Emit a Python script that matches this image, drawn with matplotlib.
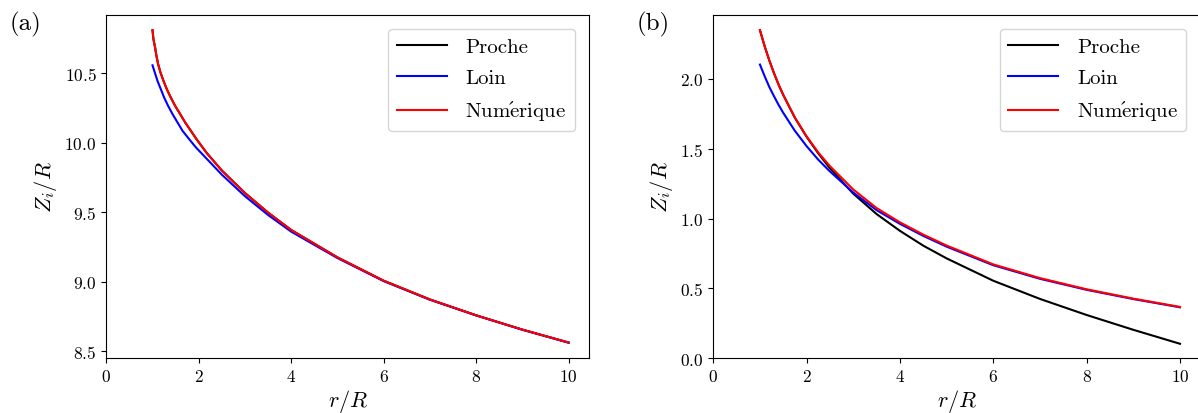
import matplotlib
matplotlib.use("Agg")
import matplotlib.pyplot as plt

plt.rcParams['font.family'] = 'serif'
plt.rcParams['font.serif'] = ['cmr10']
plt.rcParams['mathtext.fontset'] = 'cm'
plt.rcParams['axes.formatter.use_mathtext'] = True
plt.rcParams['axes.unicode_minus'] = False

# (a) values
ra_num = [1.0, 1.021, 1.057, 1.086, 1.122, 1.173, 1.238, 1.31, 1.396, 1.49, 1.598, 1.706, 1.829, 1.951,
          2.175, 2.5, 3.0, 3.5, 4.0, 5.0, 6.0, 7.0, 8.0, 9.0, 10.0]
za_num = [10.81, 10.744, 10.684, 10.624, 10.565, 10.505, 10.445, 10.385, 10.325, 10.265, 10.206, 10.146, 10.086, 10.026,
          9.925, 9.80, 9.638, 9.497, 9.372, 9.175, 9.007, 8.872, 8.758, 8.655, 8.562]
# Proche lies under Numerique in (a)
ra_proche = list(ra_num)
za_proche = list(za_num)
ra_loin = [1.0, 1.05, 1.108, 1.18, 1.252, 1.338, 1.433, 1.541, 1.649, 1.792, 1.937,
           2.5, 3.0, 3.5, 4.0, 5.0, 6.0, 7.0, 8.0, 9.0, 10.0]
za_loin = [10.557, 10.505, 10.445, 10.385, 10.325, 10.265, 10.206, 10.146, 10.086, 10.026, 9.967,
           9.77, 9.615, 9.48, 9.36, 9.17, 9.004, 8.870, 8.757, 8.654, 8.561]

# (b) values
rb = [1.0, 1.1, 1.2, 1.3, 1.4, 1.5, 1.75, 2.0, 2.25, 2.5, 3.0, 3.5, 4.0, 4.5, 5.0, 6.0, 7.0, 8.0, 9.0, 10.0]
zb_num = [2.348, 2.234, 2.132, 2.041, 1.958, 1.884, 1.722, 1.588, 1.473, 1.375, 1.208, 1.075, 0.973, 0.885, 0.807, 0.672, 0.574, 0.494, 0.427, 0.368]
zb_loin = [2.102, 2.019, 1.942, 1.876, 1.813, 1.756, 1.627, 1.518, 1.421, 1.337, 1.186, 1.060, 0.962, 0.876, 0.799, 0.666, 0.569, 0.490, 0.424, 0.365]
zb_proche = [2.348, 2.234, 2.132, 2.041, 1.958, 1.884, 1.720, 1.585, 1.466, 1.360, 1.178, 1.032, 0.912, 0.806, 0.715, 0.555, 0.425, 0.310, 0.204, 0.104]

# accent nudged left so it sits over the e
labels = ['Proche', 'Loin',
          r'$\mathrm{Num}\acute{\mathrm{e}\hspace{-0.4}}\hspace{0.4}\mathrm{rique}$']
colors = ['k', 'b', 'r']

fig = plt.figure(figsize=(11.98, 4.14), dpi=100)
ax1 = fig.add_axes([0.0887, 0.1321, 0.4033, 0.8304])
ax2 = fig.add_axes([0.5954, 0.1321, 0.4071, 0.8304])

panels = [
    (ax1, [(ra_proche, za_proche), (ra_loin, za_loin), (ra_num, za_num)], '(a)', 0.021),
    (ax2, [(rb, zb_proche), (rb, zb_loin), (rb, zb_num)], '(b)', 0.545),
]

for ax, series, tag, xt in panels:
    for (r, z), lab, c in zip(series, labels, colors):
        ax.plot(r, z, color=c, lw=1.5, label=lab)
    ax.set_xlim(left=0)
    ax.set_xlabel(r'$r/R$', fontsize=16, labelpad=2)
    ax.set_ylabel(r'$Z_i/R$', fontsize=16)
    ax.tick_params(labelsize=12.5)
    ax.legend(loc='upper right', fontsize=15, handlelength=2.4, handletextpad=0.9,
              labelspacing=0.6, borderaxespad=0.7)
    fig.text(xt, 0.94, tag, fontsize=18, ha='center', va='center')

ax2.set_ylim(bottom=0)

fig.savefig('out.png', dpi=100)
